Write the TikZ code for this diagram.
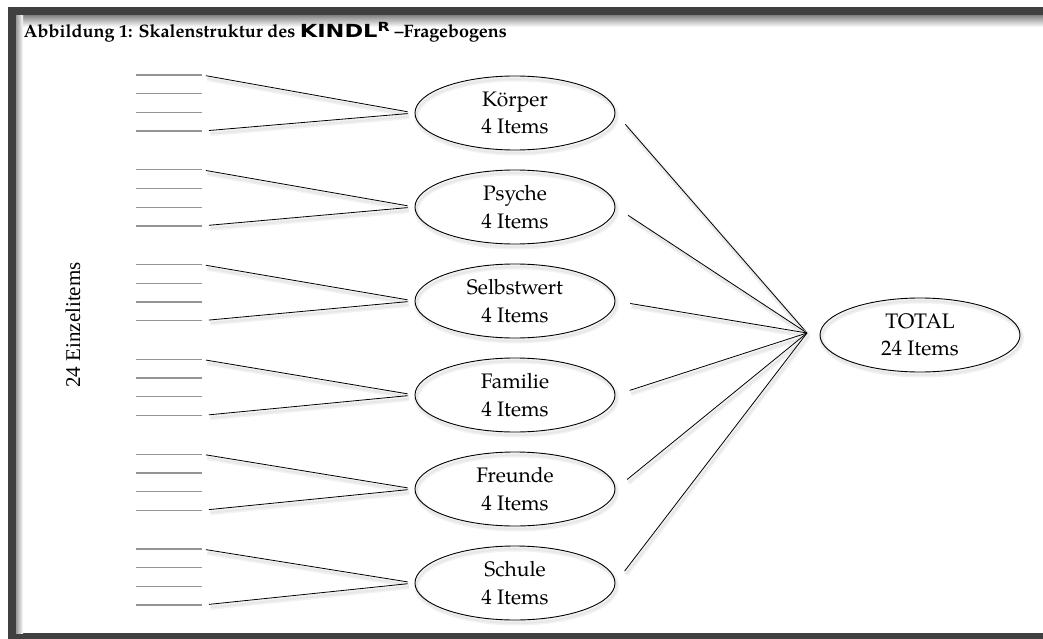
\documentclass[tikz,border=0pt]{standalone}
\usepackage{fontspec}
\setmainfont{TeX Gyre Pagella}
\newfontfamily\kindlfont{DejaVu Sans}[FakeStretch=1.25]
\newfontfamily\timesfont{Liberation Serif}
\usetikzlibrary{shapes.geometric, calc}

\begin{document}
\begin{tikzpicture}[x=1pt, y=1pt,
  schatten/.style={preaction={draw=black!5, line width=5pt, transform canvas={shift={(1.5pt,-3pt)}}},
                   preaction={draw=black!9, line width=2pt, transform canvas={shift={(1.5pt,-3pt)}}}},
  skala/.style={ellipse, draw, line width=0.9pt, schatten, minimum width=200pt, minimum height=74pt, inner sep=0pt, align=center, font=\fontsize{21}{27.5}\selectfont},
  blank/.style={draw=black!42, line width=1.3pt},
  link/.style={draw, line width=0.8pt, schatten}]

\useasboundingbox (0,0) rectangle (1043,-639);
\fill[white] (0,0) rectangle (1043,-639);
\fill[black!75] (8,-7) rectangle (1043,-639);
\fill[white] (16,-16) rectangle (1043,-633);
\shade[top color=black!45, bottom color=white] (16,-16) rectangle (1043,-27);
\shade[left color=black!40, right color=white] (16,-16) rectangle (23,-633);

\node[anchor=base west, font=\bfseries\fontsize{18}{21}\selectfont] (titel) at (20,-38)
  {Abbildung 1: Skalenstruktur des {\kindlfont KINDL\textsuperscript{R}} –Fragebogens};

\node[rotate=90, font=\timesfont\fontsize{21}{24}\selectfont] (einzel) at (73,-325) {24 Einzelitems};

\node[skala] (koerper) at (515,-113) {Körper\\4 Items};
\node[skala] (psyche) at (515,-207) {Psyche\\4 Items};
\node[skala] (selbstwert) at (515,-301) {Selbstwert\\4 Items};
\node[skala] (familie) at (515,-395) {Familie\\4 Items};
\node[skala] (freunde) at (515,-489) {Freunde\\4 Items};
\node[skala] (schule) at (515,-583) {Schule\\4 Items};
\node[skala] (total) at (920,-335) {TOTAL\\24 Items};
\coordinate (mitte) at (807,-333);

\foreach \n [count=\k from 0] in {koerper,psyche,selbstwert,familie,freunde,schule} {
  \foreach \j in {1,...,4}
    \draw[blank] (136,{-75-94.8*\k-18.7*(\j-1)}) -- ++(66,0) coordinate (\n-\j);
  \draw[link, shorten <=4pt, shorten >=7pt] (\n-1) -- (\n.west);
  \draw[link, shorten <=7pt, shorten >=7pt] (\n-4) -- (\n.west);
  \draw[link, shorten <=15pt] (\n.east) -- (mitte);
}
\end{tikzpicture}
\end{document}
